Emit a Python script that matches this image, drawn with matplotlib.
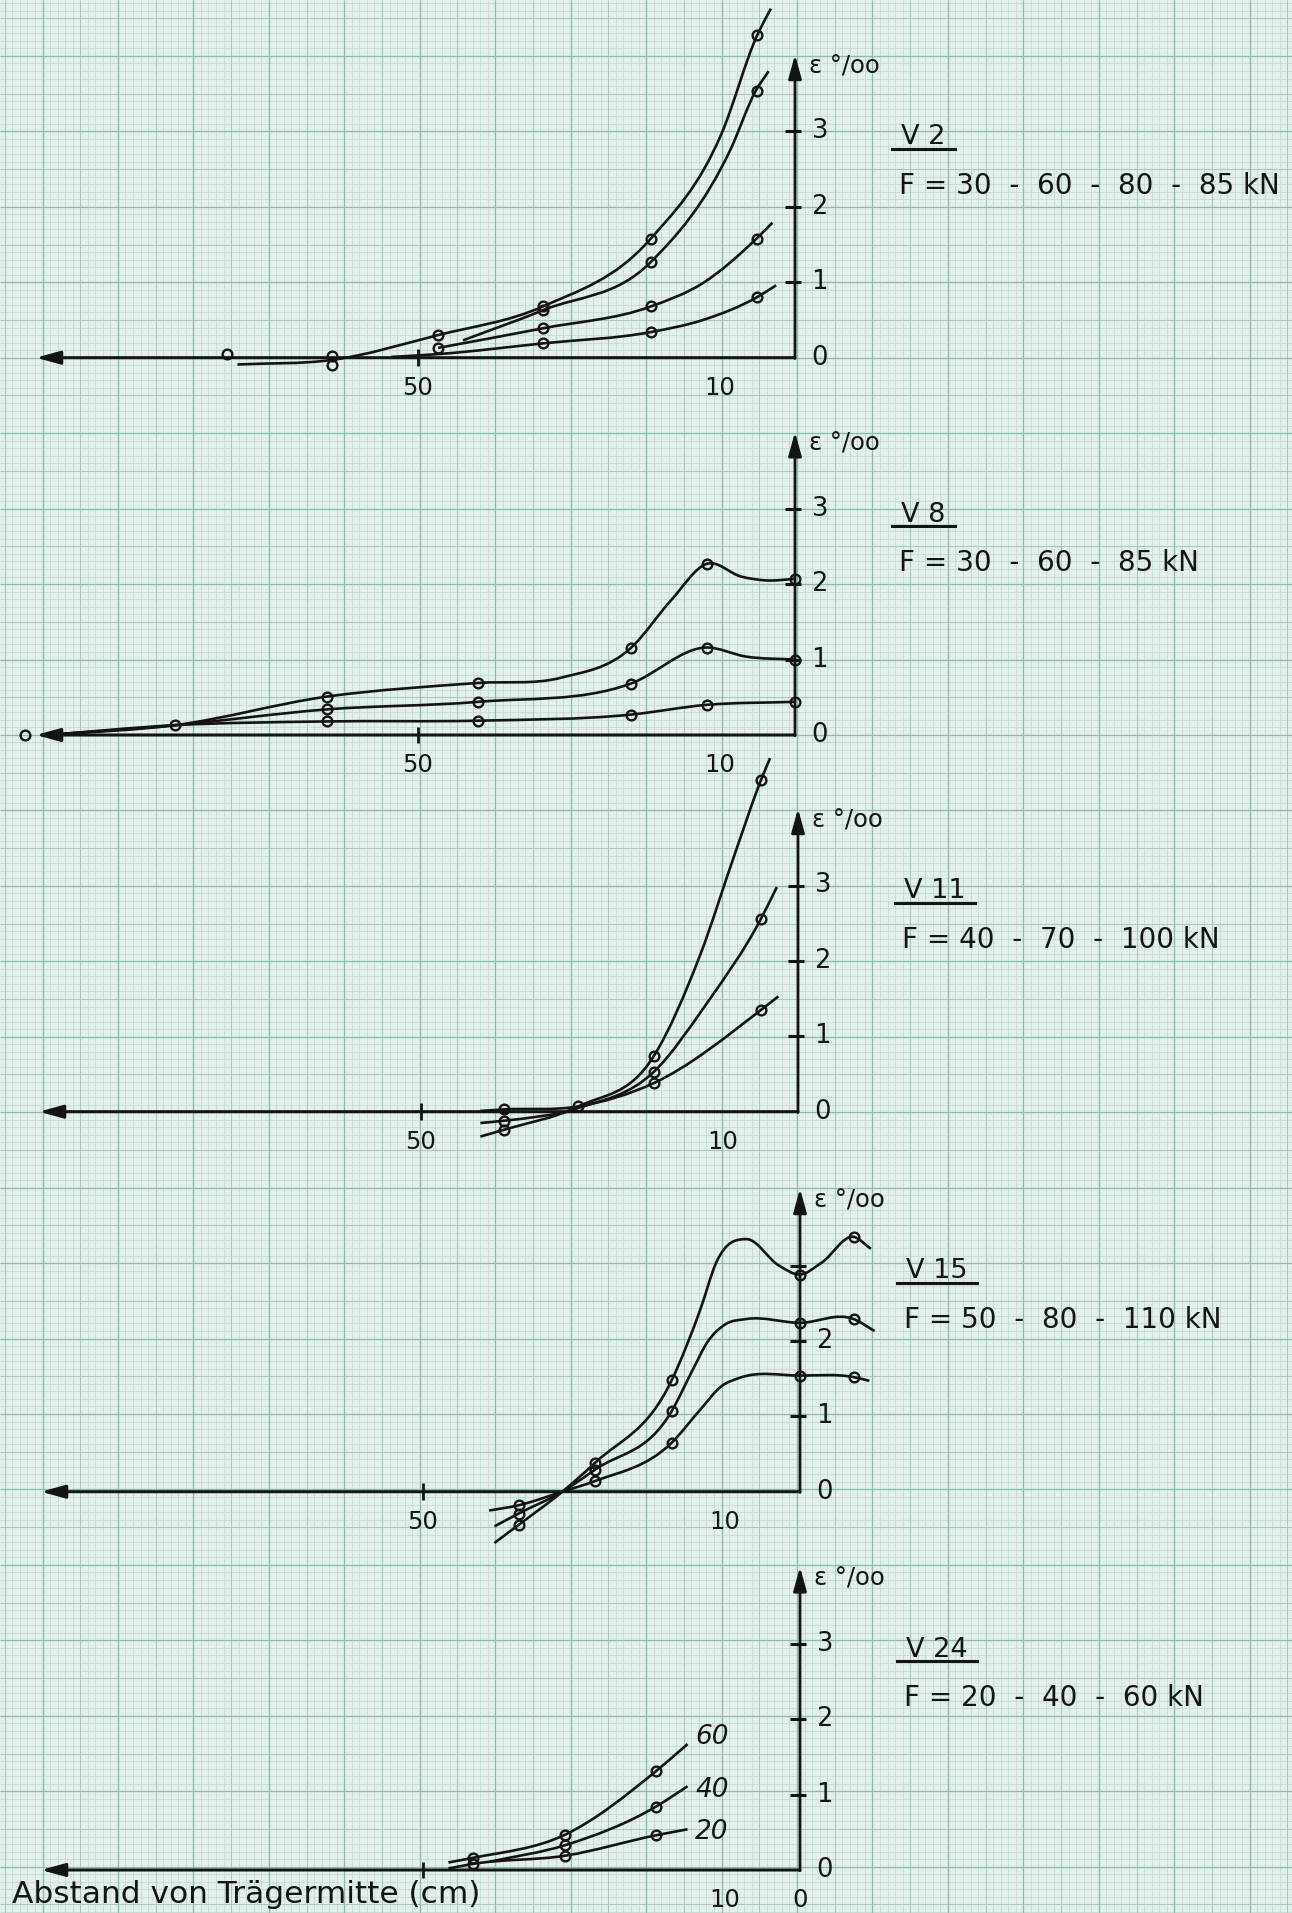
import numpy as np
import matplotlib
matplotlib.use("Agg")
import matplotlib.pyplot as plt
from matplotlib.path import Path
from matplotlib.patches import PathPatch
from matplotlib.lines import Line2D

W, H, DPI = 1292, 1913, 100

# ---------------- values ----------------
# x: distance from beam centre (cm), y: strain (per mille)

# V 2   F = 30 - 60 - 80 - 85 kN
v2_85_x = [73.9, 61.4, 47.3, 33.4, 19.2, 9.7, 5.0, 3.2]
v2_85_y = [-0.09, -0.03, 0.30, 0.68, 1.57, 2.98, 4.28, 4.63]
v2_80_x = [44.0, 33.4, 19.1, 8.6, 5.2, 3.5]
v2_80_y = [0.23, 0.63, 1.27, 2.75, 3.54, 3.80]
v2_60_x = [47.3, 33.4, 19.1, 12.2, 5.1, 3.0]
v2_60_y = [0.13, 0.39, 0.68, 0.99, 1.58, 1.79]
v2_30_x = [53.5, 47.0, 33.4, 19.1, 12.2, 4.9, 2.5]
v2_30_y = [0.01, 0.05, 0.19, 0.34, 0.50, 0.81, 0.96]
v2_pts_x = [75.3, 61.4, 61.4, 47.3, 47.3, 33.4, 33.4, 33.4, 33.4,
            19.1, 19.1, 19.1, 19.1, 5.0, 5.0, 5.0, 5.0]
v2_pts_y = [0.05, 0.02, -0.10, 0.30, 0.13, 0.68, 0.63, 0.39, 0.19,
            1.57, 1.27, 0.68, 0.34, 4.28, 3.54, 1.58, 0.81]

# V 8   F = 30 - 60 - 85 kN
v8_85_x = [99.0, 82.2, 62.0, 42.0, 31.0, 21.8, 16.4, 11.7, 7.1, 3.8, 0.0]
v8_85_y = [0.00, 0.13, 0.51, 0.69, 0.76, 1.15, 1.79, 2.27, 2.10, 2.05, 2.07]
v8_60_x = [99.0, 82.2, 62.0, 42.0, 21.8, 11.7, 6.5, 0.0]
v8_60_y = [0.00, 0.13, 0.34, 0.44, 0.68, 1.16, 1.04, 1.00]
v8_30_x = [99.0, 82.2, 62.0, 42.0, 21.8, 11.7, 0.0]
v8_30_y = [0.00, 0.13, 0.18, 0.19, 0.27, 0.40, 0.44]
v8_pts_x = [102.0, 82.2, 62.0, 62.0, 62.0, 42.0, 42.0, 42.0, 21.8, 21.8, 21.8,
            11.7, 11.7, 11.7, 0.0, 0.0, 0.0]
v8_pts_y = [0.00, 0.13, 0.51, 0.34, 0.18, 0.69, 0.44, 0.19, 1.15, 0.68, 0.27,
            2.27, 1.16, 0.40, 2.07, 1.00, 0.44]

# V 11  F = 40 - 70 - 100 kN
v11_100_x = [42.1, 39.0, 29.1, 19.1, 13.0, 8.3, 4.9, 3.7]
v11_100_y = [-0.33, -0.24, 0.07, 0.74, 2.07, 3.44, 4.40, 4.69]
v11_70_x = [42.1, 39.0, 29.1, 19.1, 12.0, 4.9, 2.8]
v11_70_y = [-0.15, -0.12, 0.05, 0.53, 1.45, 2.56, 2.98]
v11_40_x = [42.1, 39.0, 29.1, 19.1, 4.9, 2.6]
v11_40_y = [0.01, 0.03, 0.07, 0.38, 1.35, 1.53]
v11_pts_x = [39.0, 39.0, 39.0, 29.1, 19.1, 19.1, 19.1, 4.9, 4.9, 4.9]
v11_pts_y = [0.03, -0.12, -0.24, 0.07, 0.74, 0.53, 0.38, 4.40, 2.56, 1.35]

# V 15  F = 50 - 80 - 110 kN
v15_110_x = [40.5, 37.3, 31.5, 27.2, 17.0, 13.2, 11.1, 7.1, 2.8, 0.0, -2.9, -7.1, -9.4]
v15_110_y = [-0.68, -0.44, 0.00, 0.38, 1.48, 2.42, 3.04, 3.35, 3.00, 2.88, 3.04, 3.38, 3.22]
v15_80_x = [40.5, 37.3, 31.5, 27.2, 17.0, 14.2, 12.3, 9.9, 7.1, 0.0, -7.1, -9.9]
v15_80_y = [-0.46, -0.29, 0.00, 0.29, 1.07, 1.62, 1.98, 2.22, 2.29, 2.24, 2.29, 2.13]
v15_50_x = [41.2, 37.3, 31.5, 27.2, 17.0, 13.2, 10.4, 8.0, 0.0, -7.1, -9.2]
v15_50_y = [-0.25, -0.18, 0.00, 0.14, 0.65, 1.09, 1.40, 1.51, 1.54, 1.52, 1.47]
v15_pts_x = [37.3, 37.3, 37.3, 27.2, 27.2, 27.2, 17.0, 17.0, 17.0,
             0.0, 0.0, 0.0, -7.1, -7.1, -7.1]
v15_pts_y = [-0.18, -0.29, -0.44, 0.38, 0.29, 0.14, 1.48, 1.07, 0.65,
             2.88, 2.24, 1.54, 3.38, 2.29, 1.52]

# V 24  F = 20 - 40 - 60 kN
v24_60_x = [46.6, 43.4, 31.1, 19.1, 14.9]
v24_60_y = [0.10, 0.16, 0.47, 1.31, 1.67]
v24_40_x = [41.1, 31.1, 19.1, 14.9]
v24_40_y = [0.11, 0.33, 0.84, 1.11]
v24_20_x = [46.6, 43.4, 31.1, 19.1, 14.9]
v24_20_y = [0.02, 0.08, 0.19, 0.46, 0.54]
v24_pts_x = [43.4, 43.4, 31.1, 31.1, 31.1, 19.1, 19.1, 19.1]
v24_pts_y = [0.16, 0.08, 0.47, 0.33, 0.19, 1.31, 0.84, 0.46]
v24_curve_labels = ["60", "40", "20"]
v24_label_y = [1.77, 1.06, 0.51]

titles = ["V 2", "V 8", "V 11", "V 15", "V 24"]
loads = ["F = 30  -  60  -  80  -  85 kN", "F = 30  -  60  -  85 kN",
         "F = 40  -  70  -  100 kN", "F = 50  -  80  -  110 kN",
         "F = 20  -  40  -  60 kN"]
x_tick_labels = [["50", "10"], ["50", "10"], ["50", "10"], ["50", "10"], ["10", "0"]]
x_tick_values = [[50, 10], [50, 10], [50, 10], [50, 10], [10, 0]]
y_tick_labels = [["0", "1", "2", "3"], ["0", "1", "2", "3"], ["0", "1", "2", "3"],
                 ["0", "1", "2"], ["0", "1", "2", "3"]]
x_axis_label = "Abstand von Trägermitte (cm)"
y_axis_label = "ε °/oo"

# ---------------- layout (pixel geometry of the drawing sheet) ----------------
SX = 7.545    # px per cm
SY = 75.4     # px per per-mille
panel_x0 = [795, 795, 798, 800, 800]                # pixel column of the strain axis
panel_y0 = [357.7, 735.0, 1111.7, 1491.7, 1870.0]   # pixel row of the zero line

INK = "#141414"
PAPER = "#e2efea"
FONT = "DejaVu Sans"

fig = plt.figure(figsize=(W / DPI, H / DPI), dpi=DPI)
fig.patch.set_facecolor(PAPER)

# graph paper background
bg = fig.add_axes([0, 0, 1, 1])
bg.set_xlim(0, W)
bg.set_ylim(H, 0)
bg.axis("off")
bg.set_facecolor(PAPER)
kx = np.arange(-120, 80)
xs = 797 + SX * kx
keep = (xs >= 0) & (xs <= W)
xs, kx = xs[keep], kx[keep]
ky = np.arange(-60, 220)
ys = 357.7 + SX * ky
keep = (ys >= 0) & (ys <= H)
ys, ky = ys[keep], ky[keep]
for mod_sel, col, lw in [(lambda k: (k % 5) != 0, "#c4d9d1", 0.55),
                         (lambda k: ((k % 5) == 0) & ((k % 10) != 0), "#a9c9be", 0.75),
                         (lambda k: (k % 10) == 0, "#8cbcac", 0.95)]:
    bg.vlines(xs[mod_sel(kx)], 0, H, colors=col, lw=lw, zorder=1)
    bg.hlines(ys[mod_sel(ky)], 0, W, colors=col, lw=lw, zorder=1)


def smooth_path(xv, yv):
    x = np.asarray(xv, float)
    y = np.asarray(yv, float)
    n = len(x)
    h = np.diff(x)
    d = np.diff(y) / h
    m = np.empty(n)
    m[0], m[-1] = d[0], d[-1]
    for i in range(1, n - 1):
        m[i] = (d[i - 1] * h[i] + d[i] * h[i - 1]) / (h[i - 1] + h[i])
    verts = [(x[0], y[0])]
    codes = [Path.MOVETO]
    for i in range(n - 1):
        verts += [(x[i] + h[i] / 3, y[i] + m[i] * h[i] / 3),
                  (x[i + 1] - h[i] / 3, y[i + 1] - m[i + 1] * h[i] / 3),
                  (x[i + 1], y[i + 1])]
        codes += [Path.CURVE4] * 3
    return Path(verts, codes)


panel_curves = [
    [(v2_85_x, v2_85_y), (v2_80_x, v2_80_y), (v2_60_x, v2_60_y), (v2_30_x, v2_30_y)],
    [(v8_85_x, v8_85_y), (v8_60_x, v8_60_y), (v8_30_x, v8_30_y)],
    [(v11_100_x, v11_100_y), (v11_70_x, v11_70_y), (v11_40_x, v11_40_y)],
    [(v15_110_x, v15_110_y), (v15_80_x, v15_80_y), (v15_50_x, v15_50_y)],
    [(v24_60_x, v24_60_y), (v24_40_x, v24_40_y), (v24_20_x, v24_20_y)],
]
panel_pts = [(v2_pts_x, v2_pts_y), (v8_pts_x, v8_pts_y), (v11_pts_x, v11_pts_y),
             (v15_pts_x, v15_pts_y), (v24_pts_x, v24_pts_y)]

title_texts = []
axes = []
for p in range(5):
    x0, y0 = panel_x0[p], panel_y0[p]
    ax = fig.add_axes([0, 0, 1, 1])
    ax.set_facecolor("none")
    ax.axis("off")
    ax.set_xlim(x0 / SX, (x0 - W) / SX)
    ax.set_ylim((y0 - H) / SY, y0 / SY)
    axes.append(ax)

    # axes with arrow heads
    ax.annotate("", xy=(100.6, 0), xytext=(0, 0),
                arrowprops=dict(arrowstyle="-|>,head_length=0.8,head_width=0.22",
                                color=INK, lw=2.2, mutation_scale=18,
                                shrinkA=0, shrinkB=0), zorder=4)
    ax.annotate("", xy=(0, 4.02), xytext=(0, -0.01),
                arrowprops=dict(arrowstyle="-|>,head_length=0.8,head_width=0.22",
                                color=INK, lw=2.0, mutation_scale=18,
                                shrinkA=0, shrinkB=0), zorder=4)
    # ticks
    for v in (1, 2, 3):
        ax.plot([1.3, -0.8], [v, v], color=INK, lw=2.2, solid_capstyle="butt", zorder=4)
    ax.plot([50, 50], [-0.11, 0.11], color=INK, lw=2.0, solid_capstyle="butt", zorder=4)

    # tick labels
    for lab in y_tick_labels[p]:
        ax.text(-2.2, float(lab), lab, fontsize=18.5, family=FONT, color=INK,
                ha="left", va="center", zorder=5)
    for lab, v in zip(x_tick_labels[p], x_tick_values[p]):
        ax.text(v, -0.40, lab, fontsize=17.5, family=FONT, color=INK,
                ha="center", va="center", zorder=5)
    ax.text(-1.9, 3.86, y_axis_label, fontsize=17.5, family=FONT, color=INK,
            ha="left", va="center", zorder=5)

    # titles
    t = ax.text(-14.0, 2.83, titles[p], fontsize=19.5, family=FONT, color=INK,
                ha="left", va="baseline", zorder=5)
    title_texts.append(t)
    ax.text(-13.8, 2.17, loads[p], fontsize=20, family=FONT, color=INK,
            ha="left", va="baseline", zorder=5)

    # curves
    for cx, cy in panel_curves[p]:
        ax.add_patch(PathPatch(smooth_path(cx, cy), facecolor="none",
                               edgecolor=INK, lw=1.9, zorder=6))
    px, py = panel_pts[p]
    ax.plot(px, py, linestyle="none", marker="o", ms=7, mfc="none",
            mec=INK, mew=1.7, zorder=7)

# V 24 load labels on the curves
for lab, ly in zip(v24_curve_labels, v24_label_y):
    axes[4].text(13.9, ly, lab, fontsize=19, family=FONT, style="italic",
                 color=INK, ha="left", va="center", zorder=5)

# x-axis caption
axes[4].text(104.5, -0.44, x_axis_label, fontsize=22.5, family=FONT, color=INK,
             ha="left", va="baseline", zorder=5)

# underline titles
fig.canvas.draw()
r = fig.canvas.get_renderer()
for t in title_texts:
    bb = t.get_window_extent(renderer=r)
    yy = (bb.y0 + 1.5) / H
    fig.add_artist(Line2D([(bb.x0 - 9) / W, (bb.x1 + 10) / W], [yy, yy],
                          transform=fig.transFigure, color=INK, lw=2.2))

fig.savefig("out.png", dpi=DPI, facecolor=PAPER)
